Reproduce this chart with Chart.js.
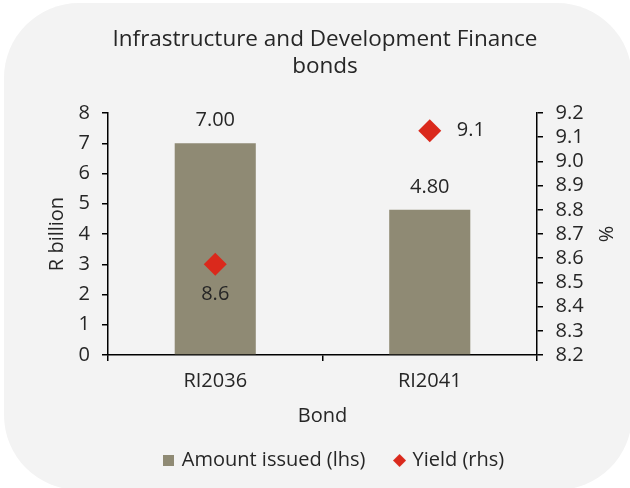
<!DOCTYPE html>
<html>
<head>
<meta charset="utf-8">
<script src="https://cdn.jsdelivr.net/npm/chart.js@4/dist/chart.umd.min.js"></script>
<style>
  html, body { margin: 0; padding: 0; background: #ffffff; }
  #wrap { width: 630px; height: 488px; }
</style>
</head>
<body>
<div id="wrap"><canvas id="c" width="630" height="488"></canvas></div>
<script>
// ---- data ----
const categories = ['RI2036', 'RI2041'];
const amounts = [7.00, 4.80];          // R billion (lhs)
const yields = [8.575, 9.127];         // % (rhs)
const leftTicks = [0, 8, 1];           // min, max, step
const rightTicks = [8.2, 9.2, 0.1];    // min, max, step
const titleLines = ['Infrastructure and Development Finance', 'bonds'];
const seriesNames = ['Amount issued (lhs)', 'Yield (rhs)'];
const yieldLabelSide = ['below', 'right'];

// ---- style ----
const FONT = '"Open Sans"';
const TEXT = '#262626';
const BAR = '#8F8A74';
const RED = '#DA291C';
const titleCenterX = 325;
const legendShift = 20;

function makeMarker(kind) {
  const c = document.createElement('canvas');
  const ctx = c.getContext('2d');
  if (kind === 'square') {
    c.width = 11; c.height = 11;
    ctx.fillStyle = BAR; ctx.fillRect(0, 0, 11, 11);
  } else {
    c.width = 13; c.height = 13;
    ctx.fillStyle = RED;
    ctx.beginPath();
    ctx.moveTo(6.5, 0); ctx.lineTo(13, 6.5); ctx.lineTo(6.5, 13); ctx.lineTo(0, 6.5);
    ctx.closePath(); ctx.fill();
  }
  return c;
}
const legendMarkers = [makeMarker('square'), makeMarker('diamond')];

const background = {
  id: 'background',
  beforeDraw(chart) {
    const ctx = chart.ctx;
    ctx.save();
    ctx.fillStyle = '#f3f3f3';
    ctx.beginPath();
    ctx.roundRect(4, 3, 628, 487, 75);
    ctx.fill();
    ctx.restore();
  }
};

const layoutShift = {
  id: 'layoutShift',
  afterLayout(chart) {
    const t = chart.titleBlock;
    if (t) {
      const w = t.right - t.left;
      t.left = titleCenterX - w / 2;
      t.right = titleCenterX + w / 2;
    }
    const l = chart.legend;
    if (l) { l.left += legendShift; l.right += legendShift; }
  }
};

const valueLabels = {
  id: 'valueLabels',
  afterDatasetsDraw(chart) {
    const ctx = chart.ctx;
    ctx.save();
    ctx.font = '20px ' + FONT;
    ctx.fillStyle = TEXT;
    ctx.textBaseline = 'middle';
    chart.getDatasetMeta(0).data.forEach((bar, i) => {
      ctx.textAlign = 'center';
      ctx.fillText(amounts[i].toFixed(2), bar.x, bar.y - 23);
    });
    chart.getDatasetMeta(1).data.forEach((pt, i) => {
      const txt = yields[i].toFixed(1);
      if (yieldLabelSide[i] === 'below') {
        ctx.textAlign = 'center';
        ctx.fillText(txt, pt.x, pt.y + 30);
      } else {
        ctx.textAlign = 'left';
        ctx.fillText(txt, pt.x + 27, pt.y);
      }
    });
    ctx.restore();
  }
};

const axisGrid = { display: true, drawOnChartArea: false, drawTicks: true, tickLength: 6, color: '#000', lineWidth: 1.5 };
const axisBorder = { display: true, color: '#000', width: 1.5 };
const tickFont = { family: FONT, size: 20 };

new Chart(document.getElementById('c'), {
  type: 'bar',
  data: {
    labels: categories,
    datasets: [
      {
        label: seriesNames[0],
        data: amounts,
        backgroundColor: BAR,
        borderWidth: 0,
        yAxisID: 'y',
        order: 2,
        categoryPercentage: 1,
        barPercentage: 0.378
      },
      {
        type: 'line',
        label: seriesNames[1],
        data: yields,
        yAxisID: 'y1',
        showLine: false,
        pointStyle: 'rectRot',
        pointRadius: 11.5,
        pointHoverRadius: 11.5,
        pointBorderWidth: 0,
        backgroundColor: RED,
        borderColor: RED,
        order: 1
      }
    ]
  },
  options: {
    responsive: false,
    animation: false,
    devicePixelRatio: 1,
    layout: { padding: { left: 0, right: 0, top: 0, bottom: 7.5 } },
    plugins: {
      tooltip: { enabled: false },
      title: {
        display: true,
        text: titleLines,
        color: TEXT,
        font: { family: FONT, size: 22.5, weight: 'normal', lineHeight: 1.2 },
        padding: { top: 26.5, bottom: 32.5 }
      },
      legend: {
        position: 'bottom',
        labels: {
          color: TEXT,
          font: { family: FONT, size: 20 },
          usePointStyle: true,
          pointStyleWidth: 6,
          boxHeight: 12,
          padding: 31,
          generateLabels(chart) {
            const items = Chart.defaults.plugins.legend.labels.generateLabels(chart);
            items.forEach(it => { it.pointStyle = legendMarkers[it.datasetIndex]; });
            return items.sort((a, b) => a.datasetIndex - b.datasetIndex);
          }
        }
      }
    },
    scales: {
      x: {
        offset: true,
        grid: Object.assign({}, axisGrid, { offset: true }),
        border: axisBorder,
        ticks: { color: TEXT, font: tickFont, padding: 8.5, maxRotation: 0 },
        title: { display: true, text: 'Bond', color: TEXT, font: tickFont, padding: { top: 0, bottom: -8.5 } },
        afterFit(s) { s.height = 64.5; }
      },
      y: {
        position: 'left',
        min: leftTicks[0], max: leftTicks[1],
        grid: axisGrid,
        border: axisBorder,
        ticks: { stepSize: leftTicks[2], color: TEXT, font: tickFont, padding: 12, autoSkip: false },
        title: { display: true, text: 'R billion', color: TEXT, font: tickFont, padding: { top: 45, bottom: 0 } },
        afterFit(s) { s.width = 108; }
      },
      y1: {
        position: 'right',
        min: rightTicks[0], max: rightTicks[1],
        grid: axisGrid,
        border: axisBorder,
        ticks: { stepSize: rightTicks[2], color: TEXT, font: tickFont, padding: 12.5, autoSkip: false,
                 callback: v => Number(v).toFixed(1) },
        title: { display: true, text: '%', color: TEXT, font: tickFont, padding: { top: 13, bottom: 0 } },
        afterFit(s) { s.width = 93; }
      }
    }
  },
  plugins: [background, layoutShift, valueLabels]
});
</script>
</body>
</html>
